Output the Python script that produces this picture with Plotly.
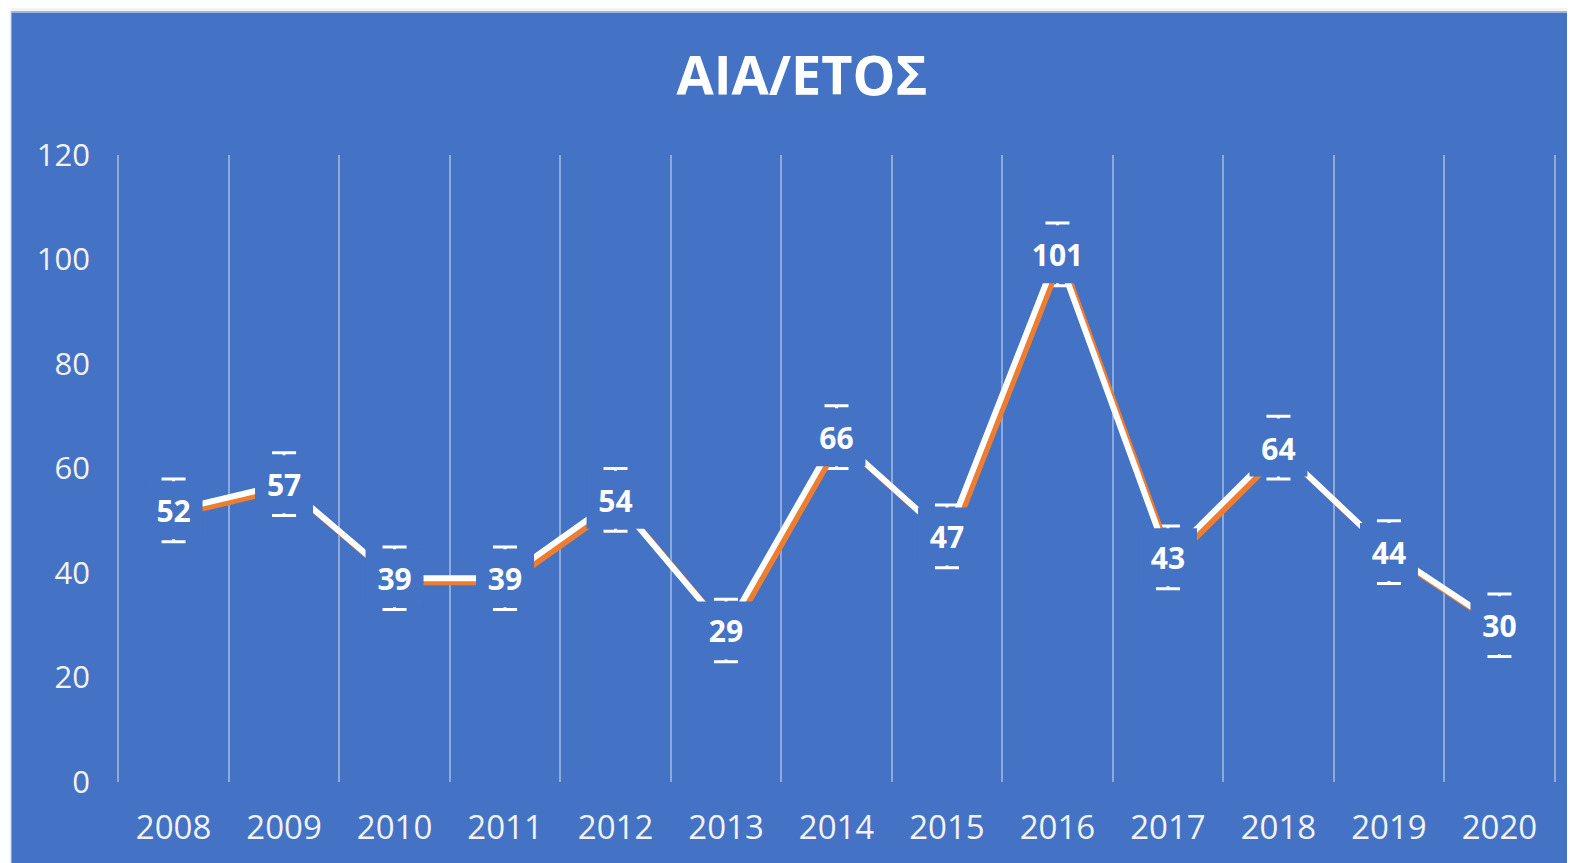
import plotly.graph_objects as go

years = ["2008", "2009", "2010", "2011", "2012", "2013", "2014",
         "2015", "2016", "2017", "2018", "2019", "2020"]
values = [52, 57, 39, 39, 54, 29, 66, 47, 101, 43, 64, 44, 30]
errors = [6, 6, 6, 6, 6, 6, 6, 6, 6, 6, 6, 6, 6]
y_ticks = [0, 20, 40, 60, 80, 100, 120]
title_text = "ΑΙΑ/ΕΤΟΣ"

BLUE = "#4472C4"
ORANGE = "#ED7D31"
FONT = "Open Sans"

# the page body adds an 8px margin, so the figure is a bit smaller
FIG_W, FIG_H = 1567, 855
ML, MR, MT, MB = 107, 17, 147, 81
W_PX = FIG_W - ML - MR
H_PX = FIG_H - MT - MB
PAD = 0.03
xr = [-0.5 - PAD, len(years) - 0.5 + PAD]
yr_ = [0, 120]
unit_px = W_PX / (xr[1] - xr[0])
y_px = H_PX / (yr_[1] - yr_[0])
dx_units = 4 / unit_px
dy_units = 4 / y_px
text_dy = 4.5 / y_px

fig = go.Figure()

# error bars on the main axes
fig.add_trace(go.Scatter(
    x=years, y=values, mode="markers",
    marker=dict(size=1, color="rgba(0,0,0,0)"),
    error_y=dict(type="data", array=errors, visible=True,
                 color="white", thickness=3, width=12),
    hoverinfo="skip", showlegend=False, xaxis="x", yaxis="y"))

# orange shadow, shifted right/down through its own axes
fig.add_trace(go.Scatter(
    x=years, y=values, mode="lines",
    line=dict(color=ORANGE, width=6),
    hoverinfo="skip", showlegend=False, xaxis="x2", yaxis="y2"))

# white line
fig.add_trace(go.Scatter(
    x=years, y=values, mode="lines",
    line=dict(color="white", width=6),
    hoverinfo="skip", showlegend=False, xaxis="x3", yaxis="y3"))

# filled label boxes (cover the line near the points)
fig.add_trace(go.Scatter(
    x=years, y=values, mode="markers",
    marker=dict(symbol="square", size=58, color=BLUE, line=dict(width=0)),
    hoverinfo="skip", showlegend=False, xaxis="x3", yaxis="y3",
    cliponaxis=False))

# data label text
fig.add_trace(go.Scatter(
    x=years, y=values, mode="text",
    text=[f"<b>{v}</b>" for v in values], textposition="middle center",
    textfont=dict(family=FONT, size=30, color="white"),
    hoverinfo="skip", showlegend=False, xaxis="x4", yaxis="y4",
    cliponaxis=False))

cat = dict(type="category", categoryorder="array", categoryarray=years)

fig.update_layout(
    width=FIG_W, height=FIG_H, autosize=False,
    margin=dict(l=ML, r=MR, t=MT, b=MB, autoexpand=False),
    paper_bgcolor=BLUE, plot_bgcolor="rgba(0,0,0,0)",
    title=dict(text=f"<b>{title_text}</b>", xref="container", yref="container",
               x=0.5067, y=0.9205, xanchor="center", yanchor="middle",
               font=dict(family=FONT, size=54, color="white")),
    xaxis=dict(**cat, range=xr, tickson="boundaries", showgrid=True,
               gridcolor="rgba(255,255,255,0.4)", gridwidth=2,
               showline=False, zeroline=False, ticks="", automargin=False,
               tickfont=dict(family=FONT, size=33, color="#F2F2F2"),
               ticklabelstandoff=23),
    yaxis=dict(range=yr_, tickvals=y_ticks, showgrid=False, zeroline=False,
               showline=False, ticks="", automargin=False,
               tickfont=dict(family=FONT, size=31, color="#F2F2F2"),
               ticklabelstandoff=24),
    xaxis2=dict(**cat, overlaying="x",
                range=[xr[0] - dx_units, xr[1] - dx_units], visible=False),
    yaxis2=dict(overlaying="y", range=[yr_[0] + dy_units, yr_[1] + dy_units],
                visible=False),
    xaxis3=dict(**cat, overlaying="x", range=xr, visible=False),
    yaxis3=dict(overlaying="y", range=yr_, visible=False),
    xaxis4=dict(**cat, overlaying="x", range=xr, visible=False),
    yaxis4=dict(overlaying="y", range=[yr_[0] + text_dy, yr_[1] + text_dy],
                visible=False),
    shapes=[
        # top light strip (completes the page margin)
        dict(type="rect", xref="paper", yref="paper",
             x0=-ML / W_PX - 0.01, x1=1.02, y0=(MT + H_PX - 3) / H_PX,
             y1=(MT + H_PX) / H_PX + 0.01,
             fillcolor="#F3F3F3", line=dict(width=0), layer="above"),
        # left white strip
        dict(type="rect", xref="paper", yref="paper",
             x0=-ML / W_PX - 0.01, x1=(3 - ML) / W_PX,
             y0=-0.2, y1=(MT + H_PX) / H_PX + 0.01,
             fillcolor="#FBFBFB", line=dict(width=0), layer="above"),
        # light edge line at top of blue area
        dict(type="line", xref="paper", yref="paper",
             x0=(3 - ML) / W_PX, x1=1.02,
             y0=(MT + H_PX - 4) / H_PX, y1=(MT + H_PX - 4) / H_PX,
             line=dict(color="#9DB5E0", width=2), layer="above"),
        dict(type="line", xref="paper", yref="paper",
             x0=(3 - ML) / W_PX, x1=(3 - ML) / W_PX,
             y0=-0.2, y1=(MT + H_PX - 3) / H_PX,
             line=dict(color="#C8D3E6", width=1), layer="above"),
    ],
)

fig.write_html("out.html")
